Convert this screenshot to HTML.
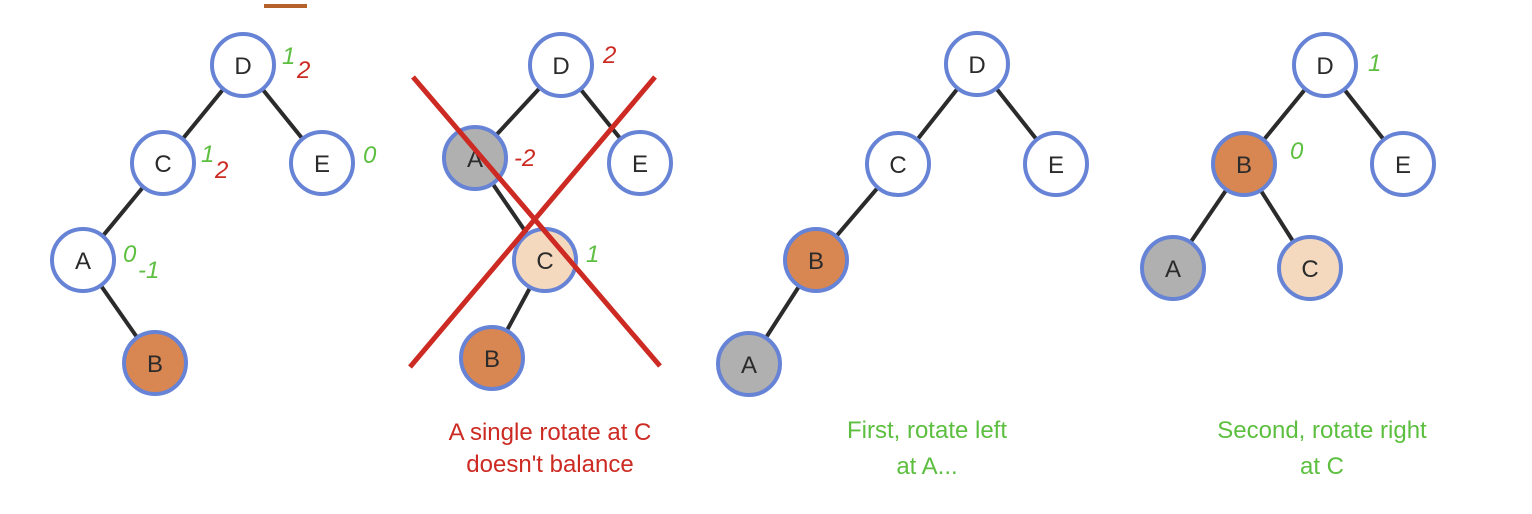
<!DOCTYPE html>
<html><head><meta charset="utf-8"><style>
html,body{margin:0;padding:0;background:#fff;}
svg{display:block;}
text{font-family:"Liberation Sans",sans-serif;}
</style></head><body>
<svg width="1532" height="514" viewBox="0 0 1532 514" xmlns="http://www.w3.org/2000/svg">
<rect x="264" y="4" width="43" height="4" fill="#b5612a"/>
<g stroke="#2b2b2b" stroke-width="4" fill="none">
<!-- panel1 -->
<line x1="243" y1="65" x2="163" y2="163"/><line x1="243" y1="65" x2="322" y2="163"/>
<line x1="163" y1="163" x2="83" y2="260"/><line x1="83" y1="260" x2="155" y2="363"/>
<!-- panel2 -->
<line x1="561" y1="65" x2="475" y2="158"/><line x1="561" y1="65" x2="640" y2="163"/>
<line x1="475" y1="158" x2="545" y2="260"/><line x1="545" y1="260" x2="492" y2="358"/>
<!-- panel3 -->
<line x1="977" y1="64" x2="898" y2="164"/><line x1="977" y1="64" x2="1056" y2="164"/>
<line x1="898" y1="164" x2="816" y2="260"/><line x1="816" y1="260" x2="749" y2="364"/>
<!-- panel4 -->
<line x1="1325" y1="65" x2="1244" y2="164"/><line x1="1325" y1="65" x2="1403" y2="164"/>
<line x1="1244" y1="164" x2="1173" y2="268"/><line x1="1244" y1="164" x2="1310" y2="268"/>
</g>
<g stroke="#6683d6" stroke-width="4">
<circle cx="243" cy="65" r="31" fill="#fff"/><circle cx="163" cy="163" r="31" fill="#fff"/>
<circle cx="322" cy="163" r="31" fill="#fff"/><circle cx="83" cy="260" r="31" fill="#fff"/>
<circle cx="155" cy="363" r="31" fill="#d88752"/>
<circle cx="561" cy="65" r="31" fill="#fff"/><circle cx="475" cy="158" r="31" fill="#b0b0b0"/>
<circle cx="640" cy="163" r="31" fill="#fff"/><circle cx="545" cy="260" r="31" fill="#f5d9bf"/>
<circle cx="492" cy="358" r="31" fill="#d88752"/>
<circle cx="977" cy="64" r="31" fill="#fff"/><circle cx="898" cy="164" r="31" fill="#fff"/>
<circle cx="1056" cy="164" r="31" fill="#fff"/><circle cx="816" cy="260" r="31" fill="#d88752"/>
<circle cx="749" cy="364" r="31" fill="#b0b0b0"/>
<circle cx="1325" cy="65" r="31" fill="#fff"/><circle cx="1244" cy="164" r="31" fill="#d88752"/>
<circle cx="1403" cy="164" r="31" fill="#fff"/><circle cx="1173" cy="268" r="31" fill="#b0b0b0"/>
<circle cx="1310" cy="268" r="31" fill="#f5d9bf"/>
</g>
<g font-size="24" fill="#2b2b2b" text-anchor="middle">
<text x="243" y="74">D</text><text x="163" y="172">C</text><text x="322" y="172">E</text><text x="83" y="269">A</text><text x="155" y="372">B</text>
<text x="561" y="74">D</text><text x="475" y="167">A</text><text x="640" y="172">E</text><text x="545" y="269">C</text><text x="492" y="367">B</text>
<text x="977" y="73">D</text><text x="898" y="173">C</text><text x="1056" y="173">E</text><text x="816" y="269">B</text><text x="749" y="373">A</text>
<text x="1325" y="74">D</text><text x="1244" y="173">B</text><text x="1403" y="173">E</text><text x="1173" y="277">A</text><text x="1310" y="277">C</text>
</g>
<g stroke="#cc2a22" stroke-width="5">
<line x1="413" y1="77" x2="660" y2="366"/><line x1="655" y1="77" x2="410" y2="367"/>
</g>
<g font-size="24" font-style="italic">
<text x="282" y="64" fill="#5cbf3f">1</text><text x="297" y="78" fill="#cc2a22">2</text>
<text x="201" y="162" fill="#5cbf3f">1</text><text x="215" y="178" fill="#cc2a22">2</text>
<text x="363" y="163" fill="#5cbf3f">0</text>
<text x="123" y="262" fill="#5cbf3f">0</text><text x="138" y="278" fill="#5cbf3f">-1</text>
<text x="603" y="63" fill="#cc2a22">2</text>
<text x="514" y="166" fill="#cc2a22">-2</text>
<text x="586" y="262" fill="#5cbf3f">1</text>
<text x="1368" y="71" fill="#5cbf3f">1</text>
<text x="1290" y="159" fill="#5cbf3f">0</text>
</g>
<g font-size="24" text-anchor="middle">
<text x="550" y="440" fill="#cc2a22">A single rotate at C</text>
<text x="550" y="472" fill="#cc2a22">doesn't balance</text>
<text x="927" y="438" fill="#5cbf3f">First, rotate left</text>
<text x="927" y="474" fill="#5cbf3f">at A...</text>
<text x="1322" y="438" fill="#5cbf3f">Second, rotate right</text>
<text x="1322" y="474" fill="#5cbf3f">at C</text>
</g>
</svg>
</body></html>
